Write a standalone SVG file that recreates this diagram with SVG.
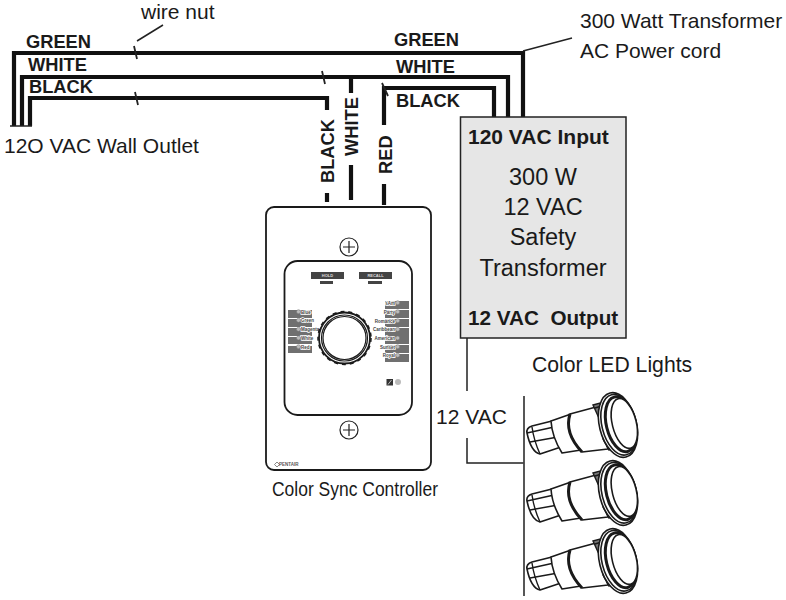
<svg xmlns="http://www.w3.org/2000/svg" width="786" height="600" viewBox="0 0 786 600">
<defs>
<style>
.t{font-family:"Liberation Sans",Arial,sans-serif;fill:#1a1a1a}
.n{font-size:21px}
.b{font-size:18.300px;font-weight:700}
.b2{font-size:21px;font-weight:700}
.w{fill:none;stroke:#111;stroke-width:4.200}
.thin{fill:none;stroke:#222;stroke-width:1.5}
.tick{fill:none;stroke:#222;stroke-width:1.8}
.bar{fill:#707070}
.dot{fill:#bbb;stroke:#777;stroke-width:.5}
.mini{font-family:"Liberation Sans",Arial,sans-serif;font-size:4.500px;font-weight:700;fill:#444;stroke:#fff;stroke-width:1.6;paint-order:stroke}
.l{fill:#fff;stroke:#1a1a1a;stroke-width:1.600;stroke-linejoin:round}
.ln{fill:none;stroke:#1a1a1a;stroke-width:1.400}
.lb{fill:none;stroke:#1a1a1a;stroke-width:3}
.brk{fill:#777;stroke:#1a1a1a;stroke-width:1.400}
</style>
<g id="lamp">
<path class="l" d="M-91 8Q-92 3-86 1L-66-4-57 22-78 29Q-87 27-91 8Z"/>
<path class="ln" d="M-91 8L-64 2M-88 17L-60 12M-86 2Q-84 16-78 29"/>
<path class="l" d="M-67-4L-47-11Q-52 8-37 25L-56 28Q-66 12-67-4Z"/>
<path class="l" d="M-48-11L-22-18-10 24-36 27Q-54 8-48-11Z"/>
<path class="lb" d="M-48-11Q-54 8-36 27"/>
<path class="brk" d="M-25-20L-18-22-14-10-20-9Z"/>
<path class="brk" d="M-15 14L-8 12-3 22-9 25Z"/>
<path class="ln" d="M-23-17L-10-21M-11 23L2 23"/>
<ellipse class="l" cx="0" cy="0" rx="18.500" ry="33" transform="rotate(-14)"/>
<ellipse class="l" cx="1" cy="0" rx="17" ry="31" transform="rotate(-14)"/>
<ellipse fill="#fff" stroke="#1a1a1a" stroke-width="3" cx="3" cy="0" rx="14.500" ry="28" transform="rotate(-14)"/>
<ellipse class="l" cx="6.500" cy="0" rx="12" ry="25.500" transform="rotate(-14)"/>
</g>
</defs>
<rect width="786" height="600" fill="#fff"/>
<g id="connectors">
<path class="w" d="M14 126V53H523V117"/>
<path class="w" d="M22 126V77H508V117"/>
<path class="w" d="M30 126V98H327V110"/>
<path class="w" d="M327 193V202"/>
<path class="w" d="M351 77V93M351 165V200"/>
<path class="w" d="M384 125V88H494V117"/>
<path class="w" d="M384 184V205"/>
<path class="thin" d="M10 126H32"/>
<path class="tick" d="M134 46L137 59M135 92L138 105M322 71L325 84M382 83L388 96"/>
<path class="thin" d="M137 41L163 25"/>
<path class="thin" d="M523 51L572 38"/>
<path class="thin" d="M467 338V391M467 438V463H524"/>
<path fill="none" stroke="#444" stroke-width="1.800" d="M524 396V596"/>
</g>
<g id="wire-labels">
<text class="t b" x="26" y="48">GREEN</text>
<text class="t b" x="28" y="71">WHITE</text>
<text class="t b" x="29" y="93">BLACK</text>
<text class="t b" x="394" y="46">GREEN</text>
<text class="t b" x="396" y="73">WHITE</text>
<text class="t b" x="396" y="107">BLACK</text>
<text class="t b" transform="translate(334 183) rotate(-90)">BLACK</text>
<text class="t b" transform="translate(358 156) rotate(-90)">WHITE</text>
<text class="t b" transform="translate(392 174) rotate(-90)">RED</text>
<text class="t n" x="141" y="19">wire nut</text>
<text class="t n" x="4" y="153">12O VAC Wall Outlet</text>
<text class="t n" x="580" y="28">300 Watt Transformer</text>
<text class="t n" x="580" y="58">AC Power cord</text>
<text class="t n" x="436" y="424">12 VAC</text>
<text class="t n" x="532" y="372" style="font-size:21.200px">Color LED Lights</text>
</g>
<g id="transformer">
<rect x="460.500" y="117" width="165.500" height="221" fill="#e6e6e6" stroke="#222" stroke-width="1.5"/>
<text class="t b2" x="468" y="144">120 VAC Input</text>
<g class="t" style="font-size:23.500px" text-anchor="middle">
<text x="543" y="185">300 W</text>
<text x="543" y="215">12 VAC</text>
<text x="543" y="245">Safety</text>
<text x="543" y="276">Transformer</text>
</g>
<text class="t b2" x="468" y="325" xml:space="preserve" style="font-size:20.700px">12 VAC  Output</text>
</g>
<g id="controller">
<rect x="266" y="207" width="165" height="263" rx="8" fill="#fff" stroke="#1a1a1a" stroke-width="1.800"/>
<rect x="284.500" y="261" width="127.500" height="154" rx="13" fill="#fff" stroke="#1a1a1a" stroke-width="1.800"/>
<g fill="#fff" stroke="#222" stroke-width="1.200">
<circle cx="349" cy="247" r="9"/><path d="M343 247H355M349 241V253"/>
<circle cx="349" cy="430" r="9"/><path d="M343 430H355M349 424V436"/>
</g>
<rect x="311" y="272" width="33" height="7" fill="#444"/>
<rect x="359" y="272" width="33" height="7" fill="#444"/>
<rect fill="#444" x="320" y="281" width="13" height="3"/>
<rect fill="#444" x="368" y="281" width="14" height="3"/>
<text x="327.500" y="277" text-anchor="middle" style="font:700 4px 'Liberation Sans',sans-serif;fill:#ddd">HOLD</text>
<text x="375.500" y="277" text-anchor="middle" style="font:700 4px 'Liberation Sans',sans-serif;fill:#ddd">RECALL</text>
<g>
<rect class="bar" x="288" y="310" width="24" height="8"/><rect class="bar" x="288" y="319" width="24" height="8"/><rect class="bar" x="288" y="328" width="24" height="8"/><rect class="bar" x="288" y="337" width="24" height="7"/><rect class="bar" x="288" y="346" width="24" height="7"/>
<rect class="bar" x="385" y="301" width="24" height="8"/><rect class="bar" x="385" y="310" width="24" height="8"/><rect class="bar" x="385" y="319" width="24" height="8"/><rect class="bar" x="385" y="328" width="24" height="8"/><rect class="bar" x="385" y="336" width="24" height="8"/><rect class="bar" x="385" y="345" width="24" height="8"/><rect class="bar" x="385" y="354" width="24" height="8"/>
</g>
<g class="mini">
<text x="301" y="313.500">Blue</text><text x="301" y="322">Green</text><text x="301" y="331">Magenta</text><text x="301" y="339.500">White</text><text x="301" y="348.500">Red</text>
</g>
<g class="mini" text-anchor="end">
<text x="395" y="304.500">sAm</text><text x="395" y="313.500">Party</text><text x="395" y="322.500">Romance</text><text x="395" y="331">Caribbean</text><text x="395" y="339.500">American</text><text x="395" y="348.500">Sunset</text><text x="395" y="357">Royal</text>
</g>
<g>
<circle class="dot" cx="298.500" cy="311.700" r="2"/><circle class="dot" cx="298.500" cy="320.300" r="2"/><circle class="dot" cx="298.500" cy="329.300" r="2"/><circle class="dot" cx="298.500" cy="338" r="2"/><circle class="dot" cx="298.500" cy="346.700" r="2"/>
<circle class="dot" cx="397.700" cy="302.700" r="2"/><circle class="dot" cx="397.700" cy="311.700" r="2"/><circle class="dot" cx="397.700" cy="320.700" r="2"/><circle class="dot" cx="397.700" cy="329.300" r="2"/><circle class="dot" cx="397.700" cy="338" r="2"/><circle class="dot" cx="397.700" cy="346.700" r="2"/><circle class="dot" cx="397.700" cy="355.300" r="2"/>
</g>
<circle cx="344.500" cy="338" r="26.500" fill="none" stroke="#1a1a1a" stroke-width="1.500" stroke-dasharray="4 4"/>
<circle cx="344.500" cy="338" r="25.500" fill="#fff" stroke="#1a1a1a" stroke-width="1.800"/>
<circle cx="344.500" cy="338" r="23" fill="#fff" stroke="#1a1a1a" stroke-width="1.200"/>
<circle cx="344.500" cy="338" r="21.500" fill="#fff" stroke="#1a1a1a" stroke-width="1.200"/>
<rect x="386.500" y="379" width="6.500" height="6.500" fill="#333"/>
<path d="M388 384.500L391.500 380" stroke="#ddd" stroke-width=".8"/>
<circle cx="398" cy="382" r="3" fill="#bbb"/>
<text x="279" y="466" style="font:700 4.500px 'Liberation Sans',sans-serif;fill:#555">PENTAIR</text>
<path d="M274.500 464.500l2.500-2.500 2.500 2.500-2.500 2.500z" fill="none" stroke="#555" stroke-width=".7"/>
<text class="t" x="272" y="496" style="font-size:20px" textLength="166" lengthAdjust="spacingAndGlyphs">Color Sync Controller</text>
</g>
<g id="light-1"><use href="#lamp" x="618" y="425"/></g>
<g id="light-2"><use href="#lamp" x="618" y="493"/></g>
<g id="light-3"><use href="#lamp" x="618" y="561"/></g>
</svg>
